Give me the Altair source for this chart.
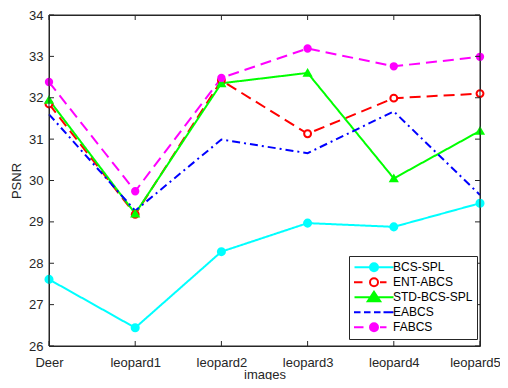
import altair as alt
import pandas as pd

images = ["Deer", "leopard1", "leopard2", "leopard3", "leopard4", "leopard5"]
series = ["BCS-SPL", "ENT-ABCS", "STD-BCS-SPL", "EABCS", "FABCS"]
bcs_spl = [27.61, 26.44, 28.28, 28.97, 28.88, 29.45]
ent_abcs = [31.85, 29.18, 32.42, 31.13, 31.99, 32.10]
std_bcs_spl = [31.95, 29.20, 32.35, 32.60, 30.05, 31.20]
eabcs = [31.60, 29.27, 30.99, 30.66, 31.67, 29.65]
fabcs = [32.38, 29.74, 32.48, 33.19, 32.76, 32.99]
y_ticks = [26, 27, 28, 29, 30, 31, 32, 33, 34]

colors = ["#00FFFF", "#FF0000", "#00FF00", "#0000FF", "#FF00FF"]
dashes = [[1, 0], [11, 6], [1, 0], [8, 4, 2, 4], [11, 6]]
marker_shapes = ["circle", "circle", "triangle-up", "circle", "circle"]
marker_fills = ["#00FFFF", "#FFFFFF", "#00FF00", "#0000FF", "#FF00FF"]
marker_sizes = [50, 40, 75, 40, 45]
has_marker = [True, True, True, False, True]

circ = "M0.8,0A0.8,0.8,0,1,1,-0.8,0A0.8,0.8,0,1,1,0.8,0Z"
legend_paths = [
    "M-3.9,0L3.9,0" + circ,
    "M-4,0L-2.3,0M1.2,0L2.5,0" + circ,
    "M-3.9,0L3.9,0M0,-1.1L1.25,0.8L-1.25,0.8Z",
    "M-4,0L-2.7,0M-2,0L-0.7,0M0,0L1.3,0M1.9,0L3.9,0",
    "M-4,0L-2.1,0M1.2,0L2.5,0" + circ,
]
legend_fills = ["#00FFFF", "#FFFFFF", "#00FF00", "transparent", "#FF00FF"]

values = [bcs_spl, ent_abcs, std_bcs_spl, eabcs, fabcs]
rows = []
for s, vals, m in zip(series, values, has_marker):
    for img, v in zip(images, vals):
        rows.append({"image": img, "psnr": v, "series": s, "marker": m, "lkey": s})
df = pd.DataFrame(rows)

# frame edges and tick positions (taken from the category and tick arrays)
xtick_df = pd.DataFrame({"image": images})
ytick_df = pd.DataFrame({"psnr": y_ticks})
hedge_df = pd.DataFrame({"psnr": [y_ticks[0], y_ticks[-1]]})
vedge_df = pd.DataFrame({"image": [images[0], images[-1]]})

FONT = "Liberation Sans"
TXT = "#262626"

x_scale = alt.Scale(type="point", domain=images, padding=0)
y_scale = alt.Scale(domain=[26, 34], nice=False, zero=False)

x_bottom = alt.X(
    "image:N", scale=x_scale, sort=images,
    axis=alt.Axis(orient="bottom", title="images", domain=False, ticks=False, grid=False,
                  labelPadding=10, labelAngle=0, titlePadding=-1,
                  labelOffset={"condition": {"test": "datum.label == 'leopard5'", "value": -5}, "value": 0},
                  labelColor=TXT, titleColor=TXT,
                  labelFont=FONT, titleFont=FONT, labelFontSize=13,
                  titleFontSize=13, titleFontWeight="normal"),
)
y_left = alt.Y(
    "psnr:Q", scale=y_scale,
    axis=alt.Axis(orient="left", title="PSNR", domain=False, ticks=False, grid=False,
                  labelPadding=6, values=y_ticks, titlePadding=5,
                  labelColor=TXT, titleColor=TXT,
                  labelFont=FONT, titleFont=FONT, labelFontSize=13,
                  titleFontSize=13, titleFontWeight="normal"),
)
x_none = alt.X("image:N", scale=x_scale, sort=images, axis=None)
y_none = alt.Y("psnr:Q", scale=y_scale, axis=None)

base = alt.Chart(df)

lines = base.mark_line(strokeWidth=2).encode(
    x=x_bottom,
    y=y_left,
    color=alt.Color("series:N", scale=alt.Scale(domain=series, range=colors), legend=None),
    strokeDash=alt.StrokeDash("series:N", scale=alt.Scale(domain=series, range=dashes), legend=None),
)

points = base.transform_filter("datum.marker").mark_point(strokeWidth=2, opacity=1).encode(
    x=x_none,
    y=y_none,
    stroke=alt.Stroke("series:N", scale=alt.Scale(domain=series, range=colors), legend=None),
    fill=alt.Fill("series:N", scale=alt.Scale(domain=series, range=marker_fills), legend=None),
    shape=alt.Shape("series:N", scale=alt.Scale(domain=series, range=marker_shapes), legend=None),
    size=alt.Size("series:N", scale=alt.Scale(domain=series, range=marker_sizes), legend=None),
)

legend_props = dict(
    title=None, orient="none", legendX=300, legendY=241,
    padding=4, strokeColor="#262626", fillColor="white",
    symbolSize=100, symbolOffset=15, labelOffset=13, symbolStrokeWidth=2,
    symbolOpacity=1, clipHeight=14.5,
    labelFont=FONT, labelFontSize=12, labelColor="#000000",
    rowPadding=0, cornerRadius=0, zindex=3,
)

legend_layer = base.transform_filter("false").mark_point(strokeWidth=2, size=100, opacity=1).encode(
    x=x_none,
    y=y_none,
    shape=alt.Shape("lkey:N", scale=alt.Scale(domain=series, range=legend_paths), legend=alt.Legend(**legend_props)),
    stroke=alt.Stroke("lkey:N", scale=alt.Scale(domain=series, range=colors), legend=alt.Legend(**legend_props)),
    fill=alt.Fill("lkey:N", scale=alt.Scale(domain=series, range=legend_fills), legend=alt.Legend(**legend_props)),
)

tick_kw = dict(color=TXT, size=5, thickness=1, opacity=1)
bottom_ticks = alt.Chart(xtick_df).mark_tick(orient="vertical", yOffset=-2.5, **tick_kw).encode(
    x=x_none, y=alt.YDatum(y_ticks[0], scale=y_scale, axis=None))
top_ticks = alt.Chart(xtick_df).mark_tick(orient="vertical", yOffset=2.5, **tick_kw).encode(
    x=x_none, y=alt.YDatum(y_ticks[-1], scale=y_scale, axis=None))
left_ticks = alt.Chart(ytick_df).mark_tick(orient="horizontal", xOffset=2.5, **tick_kw).encode(
    y=y_none, x=alt.XDatum(images[0], scale=x_scale, type="nominal", axis=None))
right_ticks = alt.Chart(ytick_df).mark_tick(orient="horizontal", xOffset=-2.5, **tick_kw).encode(
    y=y_none, x=alt.XDatum(images[-1], scale=x_scale, type="nominal", axis=None))

hedges = alt.Chart(hedge_df).mark_rule(color=TXT, strokeWidth=1).encode(y=y_none)
vedges = alt.Chart(vedge_df).mark_rule(color=TXT, strokeWidth=1).encode(x=x_none)

chart = alt.layer(
    lines, points, legend_layer,
    bottom_ticks, top_ticks, left_ticks, right_ticks, hedges, vedges,
).resolve_axis(
    x="independent", y="independent"
).resolve_scale(
    shape="independent", stroke="independent", fill="independent"
).properties(
    width=431, height=331,
    autosize=alt.AutoSizeParams(type="none"),
    padding={"left": 41, "top": 7, "right": 20, "bottom": 34},
).configure(
    background="white",
    view=alt.ViewConfig(stroke=TXT, strokeWidth=1),
)

chart.save("out.html", embed_options={"renderer": "svg", "actions": False})
